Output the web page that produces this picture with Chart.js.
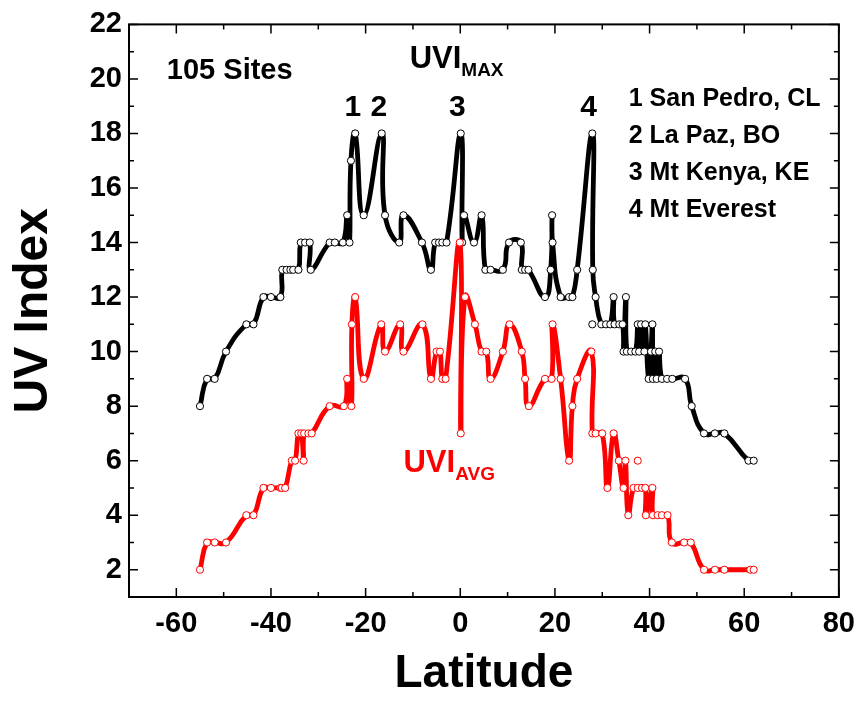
<!DOCTYPE html>
<html>
<head>
<meta charset="utf-8">
<script src="https://cdn.jsdelivr.net/npm/chart.js@4.4.1/dist/chart.umd.min.js"></script>
<style>
    html, body { margin: 0; padding: 0; background: #fff; }
    #wrap { width: 865px; height: 703px; }
</style>
</head>
<body>
<div id="wrap"><canvas id="uvChart" width="865" height="703"></canvas></div>
<script>
// UVI max per site (black curve)
const maxLat = [-55.0, -53.5, -51.9, -49.5, -45.2, -43.7, -41.6, -40.0, -38.0, -37.6,
    -36.7, -35.9, -35.3, -34.2, -33.7, -32.8, -31.8, -31.6, -27.6, -26.5,
    -24.8, -23.9, -23.4, -23.1, -22.2, -20.4, -16.6, -15.9, -12.9, -12.0,
    -8.1, -6.2, -5.3, -4.5, -3.8, -2.9, 0.1, 0.4, 0.8, 2.9,
    4.5, 5.3, 6.4, 9.0, 10.3, 12.8, 13.0, 13.7, 14.4, 17.9,
    19.1, 19.4, 19.5, 21.2, 23.0, 23.7, 24.7, 27.9, 28.0, 28.6,
    29.8, 30.8, 31.7, 32.4, 32.6, 33.6, 34.3, 34.5, 35.0, 35.2,
    36.1, 37.0, 37.5, 37.8, 38.2, 38.9, 39.1, 39.8, 40.3, 40.6,
    40.7, 41.2, 41.5, 42.0, 42.6, 43.7, 44.8, 47.5, 48.9, 51.5,
    53.8, 55.8, 60.9, 62.0];
const maxUvi = [8, 9, 9, 10, 11, 11, 12, 12, 12, 13,
    13, 13, 13, 13, 14, 14, 14, 13, 14, 14,
    14, 15, 14, 17, 18, 15, 18, 15, 14, 15,
    14, 13, 14, 14, 14, 14, 18, 14, 15, 14,
    15, 13, 13, 13, 14, 14, 13, 13, 13, 12,
    13, 15, 14, 12, 12, 12, 13, 18, 13, 12,
    11, 11, 11, 12, 11, 11, 11, 10, 12, 10,
    10, 10, 11, 10, 11, 10, 11, 9, 10, 11,
    9, 10, 9, 10, 9, 9, 9, 9, 8, 7,
    7, 7, 6, 6];

// UVI average per site (red curve)
const avgLat = [-55.0, -53.5, -51.9, -49.5, -45.2, -43.7, -41.6, -40.0, -38.0, -37.7,
    -37.0, -35.6, -34.9, -34.2, -33.6, -33.1, -33.0, -32.1, -31.4, -27.6,
    -24.6, -23.9, -23.0, -22.9, -22.2, -20.4, -16.7, -15.9, -12.7, -12.0,
    -8.0, -6.2, -5.0, -4.3, -3.8, -3.1, -0.1, 0.1, 1.0, 3.1,
    4.5, 5.5, 6.4, 9.0, 10.4, 13.0, 13.7, 14.5, 17.9, 19.3,
    19.5, 21.2, 23.0, 23.7, 24.7, 27.7, 27.9, 28.6, 30.0, 31.1,
    32.4, 33.5, 34.5, 34.9, 35.5, 36.6, 37.5, 38.4, 39.1, 39.2,
    40.6, 40.7, 41.7, 42.6, 43.8, 44.7, 47.3, 48.7, 51.5, 53.8,
    55.8, 61.3, 62.0];
const avgUvi = [2, 3, 3, 3, 4, 4, 5, 5, 5, 5,
    5, 6, 6, 7, 7, 6, 7, 7, 7, 8,
    8, 9, 8, 11, 12, 9, 11, 10, 11, 10,
    11, 9, 10, 10, 9, 9, 14, 7, 12, 11,
    10, 10, 9, 10, 11, 10, 9, 8, 9, 9,
    11, 9, 6, 8, 9, 10, 7, 7, 7, 5,
    7, 6, 5, 6, 4, 5, 5, 5, 5, 4,
    5, 4, 4, 4, 4, 3, 3, 3, 2, 2,
    2, 2, 2];

// stray markers that sit off the drawn curves
const maxLoneLat = [27.9];
const maxLoneUvi = [11];
const avgLoneLat = [37.5];
const avgLoneUvi = [6];

const xTicks = [-60, -40, -20, 0, 20, 40, 60, 80];
const yTicks = [2, 4, 6, 8, 10, 12, 14, 16, 18, 20, 22];
const peakNames = ['1', '2', '3', '4'];
const siteNames = ['1 San Pedro, CL', '2 La Paz, BO', '3 Mt Kenya, KE', '4 Mt Everest'];

const FONT = '"Liberation Sans", Arial, sans-serif';

function pts(xs, ys) {
    return xs.map((x, i) => ({ x: x, y: ys[i] }));
}

function lineSet(xs, ys, color) {
    return {
        data: pts(xs, ys),
        borderColor: color,
        borderWidth: 4.8,
        tension: 0.5,
        pointRadius: 3.6,
        pointBackgroundColor: '#fff',
        pointBorderColor: color,
        pointBorderWidth: 1
    };
}

function loneSet(xs, ys, color) {
    return {
        data: pts(xs, ys),
        showLine: false,
        pointRadius: 3.6,
        pointBackgroundColor: '#fff',
        pointBorderColor: color,
        pointBorderWidth: 1
    };
}

// box frame with inward ticks on all four sides
const frameTicks = {
    id: 'frameTicks',
    afterDatasetsDraw(chart) {
        const { ctx, chartArea: a, scales } = chart;
        ctx.save();
        ctx.strokeStyle = '#000';
        ctx.lineWidth = 2;
        ctx.strokeRect(a.left, a.top, a.right - a.left, a.bottom - a.top);
        ctx.beginPath();
        for (let v = -70; v <= 80; v += 10) {
            const p = scales.x.getPixelForValue(v);
            const len = v % 20 === 0 ? 9 : 5;
            ctx.moveTo(p, a.bottom); ctx.lineTo(p, a.bottom - len);
            ctx.moveTo(p, a.top); ctx.lineTo(p, a.top + len);
        }
        for (let v = 1; v <= 22; v++) {
            const p = scales.y.getPixelForValue(v);
            const len = v % 2 === 0 ? 9 : 5;
            ctx.moveTo(a.left, p); ctx.lineTo(a.left + len, p);
            ctx.moveTo(a.right, p); ctx.lineTo(a.right - len, p);
        }
        ctx.lineWidth = 1.5;
        ctx.stroke();
        ctx.restore();
    }
};

function subText(ctx, main, sub, x, y, size, color) {
    ctx.fillStyle = color;
    ctx.textAlign = 'left';
    ctx.textBaseline = 'alphabetic';
    ctx.font = `bold ${size}px ${FONT}`;
    ctx.fillText(main, x, y);
    const w = ctx.measureText(main).width;
    ctx.font = `bold ${Math.round(size * 0.6)}px ${FONT}`;
    ctx.fillText(sub, x + w, y + 8);
}

const notes = {
    id: 'notes',
    afterDraw(chart) {
        const { ctx, scales } = chart;
        const X = v => scales.x.getPixelForValue(v);
        const Y = v => scales.y.getPixelForValue(v);
        ctx.save();
        ctx.fillStyle = '#000';
        ctx.textBaseline = 'alphabetic';

        ctx.font = `bold 29px ${FONT}`;
        ctx.textAlign = 'left';
        ctx.fillText('105 Sites', X(-62), Y(20.0));

        subText(ctx, 'UVI', 'MAX', X(-10.7), Y(20.4), 31, '#000');
        subText(ctx, 'UVI', 'AVG', X(-12.0), Y(5.6), 31, '#ff0000');

        ctx.fillStyle = '#000';
        ctx.font = `bold 30px ${FONT}`;
        ctx.textAlign = 'center';
        const peakAt = [-22.7, -17.2, -0.6, 27.1];
        peakNames.forEach((t, i) => ctx.fillText(t, X(peakAt[i]), Y(18.65)));

        ctx.font = `bold 25px ${FONT}`;
        ctx.textAlign = 'left';
        siteNames.forEach((t, i) => ctx.fillText(t, X(35.6), Y(19.0 - i * 1.35)));
        ctx.restore();
    }
};

new Chart(document.getElementById('uvChart'), {
    type: 'line',
    data: {
        datasets: [
            lineSet(avgLat, avgUvi, '#ff0000'),
            lineSet(maxLat, maxUvi, '#000000'),
            loneSet(avgLoneLat, avgLoneUvi, '#ff0000'),
            loneSet(maxLoneLat, maxLoneUvi, '#000000')
        ]
    },
    options: {
        responsive: false,
        devicePixelRatio: 1,
        animation: false,
        layout: { padding: { top: 20, right: 20, left: 0, bottom: 0 } },
        plugins: { legend: { display: false }, tooltip: { enabled: false } },
        scales: {
            x: {
                type: 'linear',
                min: -70,
                max: 80,
                grid: { display: false, drawTicks: false },
                border: { display: false },
                afterBuildTicks: s => { s.ticks = xTicks.map(v => ({ value: v })); },
                afterFit: s => { s.height = 106; },
                ticks: {
                    color: '#000',
                    padding: 10,
                    maxRotation: 0,
                    autoSkip: false,
                    font: { family: FONT, size: 29, weight: 'bold' }
                },
                title: {
                    display: true,
                    text: 'Latitude',
                    color: '#000',
                    padding: { top: 0, bottom: 1 },
                    font: { family: FONT, size: 46, weight: 'bold' }
                }
            },
            y: {
                type: 'linear',
                min: 1,
                max: 22,
                grid: { display: false, drawTicks: false },
                border: { display: false },
                afterBuildTicks: s => { s.ticks = yTicks.map(v => ({ value: v })); },
                afterFit: s => { s.width = 129; },
                ticks: {
                    color: '#000',
                    padding: 7,
                    font: { family: FONT, size: 29, weight: 'bold' }
                },
                title: {
                    display: true,
                    text: 'UV Index',
                    color: '#000',
                    padding: { top: 5, bottom: 0 },
                    font: { family: FONT, size: 48, weight: 'bold' }
                }
            }
        }
    },
    plugins: [frameTicks, notes]
});
</script>
</body>
</html>
